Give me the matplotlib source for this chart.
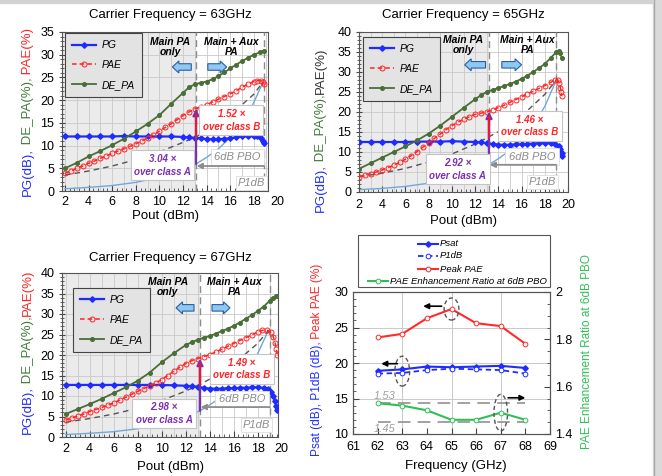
import matplotlib
matplotlib.use("Agg")
import matplotlib.pyplot as plt
from matplotlib import font_manager
from matplotlib.patches import Ellipse, FancyArrow, Rectangle
from matplotlib.lines import Line2D
from matplotlib.ticker import MultipleLocator, FuncFormatter

# ---------------- 63 GHz sweep ----------------
pg63_x = [2, 3, 4, 5, 6, 7, 8, 9, 10, 11, 12, 12.5, 13, 13.5, 14, 14.5, 15, 15.5, 16, 16.5,
          17, 17.5, 18, 18.3, 18.6, 18.8, 18.9]
pg63_y = [12.0, 12.0, 12.0, 12.0, 12.0, 12.1, 12.0, 12.0, 12.0, 12.0, 11.9, 11.8, 11.7, 11.6,
          11.4, 11.4, 11.4, 11.5, 11.6, 11.8, 12.0, 12.1, 12.1, 12.0, 11.7, 11.1, 10.5]
pae63_x = [2, 2.5, 3, 3.5, 4, 4.5, 5, 5.5, 6, 6.5, 7, 7.5, 8, 8.5, 9, 9.5, 10, 10.5, 11, 11.5,
           12, 12.5, 13, 13.5, 14, 14.5, 15, 15.5, 16, 16.5, 17, 17.5, 18, 18.3, 18.6, 18.8, 18.9]
pae63_y = [3.9, 4.4, 5.0, 5.5, 6.1, 6.6, 7.2, 7.7, 8.3, 8.8, 9.3, 9.8, 10.4, 11.0, 11.7, 12.4,
           13.2, 14.0, 14.8, 15.7, 16.6, 17.4, 18.1, 18.5, 19.0, 19.6, 20.2, 20.8, 21.4, 22.1,
           22.8, 23.5, 24.1, 24.3, 24.3, 24.0, 23.6]
de63_x = [2, 3, 4, 5, 6, 7, 8, 9, 10, 11, 12, 12.5, 13, 13.5, 14, 14.5, 15, 15.5, 16, 16.5,
          17, 17.5, 18, 18.5, 18.9]
de63_y = [5.0, 6.2, 7.6, 8.8, 10.1, 11.5, 13.1, 14.8, 16.7, 19.2, 21.6, 22.8, 23.5, 23.8,
          24.1, 24.6, 25.3, 26.1, 27.0, 27.8, 28.6, 29.3, 30.0, 30.5, 30.9]
clsA63_x = [2, 4, 6, 8, 10, 12, 13.1, 14, 15, 16, 17, 18, 18.8]
clsA63_y = [0.5, 0.8, 1.2, 1.9, 3.0, 4.7, 5.95, 7.4, 9.3, 11.8, 15.0, 19.5, 24.1]
clsB63_x = [2, 4, 6, 8, 10, 12, 13.1, 14, 16, 18, 18.8]
clsB63_y = [3.5, 4.4, 5.5, 6.9, 8.6, 10.7, 11.9, 13.2, 16.7, 21.3, 24.1]

# ---------------- 65 GHz sweep ----------------
pg65_x = [2, 3, 4, 5, 6, 7, 8, 9, 10, 11, 12, 12.5, 13, 13.5, 14, 14.5, 15, 15.5, 16, 16.5,
          17, 17.5, 18, 18.5, 18.9, 19.2, 19.35, 19.45, 19.5]
pg65_y = [12.5, 12.5, 12.5, 12.5, 12.5, 12.6, 12.6, 12.6, 12.7, 12.6, 12.5, 12.4, 12.2, 12.0,
          11.8, 11.8, 11.8, 11.9, 11.9, 12.0, 12.1, 12.2, 12.2, 12.2, 12.1, 11.6, 10.8, 9.8, 9.0]
pae65_x = [2, 2.5, 3, 3.5, 4, 4.5, 5, 5.5, 6, 6.5, 7, 7.5, 8, 8.5, 9, 9.5, 10, 10.5, 11, 11.5,
           12, 12.5, 13, 13.5, 14, 14.5, 15, 15.5, 16, 16.5, 17, 17.5, 18, 18.5, 18.9, 19.1,
           19.25, 19.35, 19.4, 19.45]
pae65_y = [3.8, 4.2, 4.6, 5.0, 5.5, 6.1, 6.7, 7.4, 8.2, 9.1, 10.1, 11.2, 12.3, 13.4, 14.5,
           15.6, 16.6, 17.4, 18.2, 18.8, 19.4, 19.7, 20.0, 20.5, 21.1, 21.7, 22.4, 23.1, 23.8,
           24.5, 25.2, 25.9, 26.6, 27.4, 28.1, 28.0, 27.2, 26.0, 25.0, 24.0]
de65_x = [2, 3, 4, 5, 6, 7, 8, 9, 10, 11, 12, 12.5, 13, 13.5, 14, 14.5, 15, 15.5, 16, 16.5,
          17, 17.5, 18, 18.5, 19, 19.2, 19.35, 19.45]
de65_y = [5.8, 7.2, 8.6, 10.0, 11.4, 12.9, 14.6, 16.6, 18.8, 21.0, 23.2, 24.2, 25.0, 25.5,
          26.0, 26.5, 27.0, 27.6, 28.3, 29.1, 30.0, 31.0, 32.0, 33.5, 35.0, 35.3, 34.8, 33.5]
clsA65_x = [2, 4, 6, 8, 10, 12, 13.2, 14, 15, 16, 17, 18, 19]
clsA65_y = [0.6, 0.9, 1.4, 2.2, 3.5, 5.4, 6.9, 8.3, 10.4, 13.1, 16.5, 21.4, 28.0]
clsB65_x = [2, 4, 6, 8, 10, 12, 13.2, 14, 16, 18, 19]
clsB65_y = [3.8, 4.7, 5.9, 7.5, 9.5, 12.0, 13.8, 15.1, 19.0, 24.4, 28.0]

# ---------------- 67 GHz sweep ----------------
pg67_x = [2, 3, 4, 5, 6, 7, 8, 9, 10, 11, 12, 12.5, 13, 13.5, 14, 14.5, 15, 15.5, 16, 16.5,
          17, 17.5, 18, 18.5, 18.9, 19.1, 19.3, 19.45, 19.55, 19.6]
pg67_y = [12.7, 12.7, 12.7, 12.7, 12.7, 12.7, 12.7, 12.7, 12.7, 12.6, 12.5, 12.4, 12.2, 12.0,
          11.8, 11.8, 11.8, 11.9, 11.9, 12.0, 12.0, 12.1, 12.1, 12.0, 11.7, 11.0, 10.0, 8.8,
          7.5, 6.5]
pae67_x = [2, 2.5, 3, 3.5, 4, 4.5, 5, 5.5, 6, 6.5, 7, 7.5, 8, 8.5, 9, 9.5, 10, 10.5, 11, 11.5,
           12, 12.5, 13, 13.5, 14, 14.5, 15, 15.5, 16, 16.5, 17, 17.5, 18, 18.4, 18.8, 19.1,
           19.3, 19.45, 19.55, 19.65]
pae67_y = [4.1, 4.6, 5.1, 5.6, 6.2, 6.7, 7.2, 7.7, 8.3, 9.0, 9.7, 10.4, 11.1, 11.8, 12.5,
           13.2, 14.0, 15.0, 16.0, 17.0, 17.9, 18.6, 19.1, 19.6, 20.1, 20.7, 21.4, 22.1, 22.8,
           23.5, 24.2, 24.9, 25.6, 26.0, 26.0, 25.5, 24.5, 23.0, 21.5, 20.0]
de67_x = [2, 3, 4, 5, 6, 7, 8, 9, 10, 11, 12, 12.5, 13, 13.5, 14, 14.5, 15, 15.5, 16, 16.5,
          17, 17.5, 18, 18.5, 19, 19.3, 19.5, 19.65]
de67_y = [5.6, 6.8, 8.0, 9.3, 10.7, 12.1, 13.7, 15.7, 18.2, 20.4, 22.4, 23.1, 23.7, 24.2,
          24.6, 25.2, 25.8, 26.4, 27.1, 27.9, 28.8, 29.7, 30.7, 31.8, 33.2, 34.0, 34.3, 34.4]
clsA67_x = [2, 4, 6, 8, 10, 12, 13.2, 14, 15, 16, 17, 18, 18.9]
clsA67_y = [0.6, 0.9, 1.3, 2.0, 3.2, 5.0, 6.4, 7.8, 9.8, 12.3, 15.5, 20.3, 26.0]
clsB67_x = [2, 4, 6, 8, 10, 12, 13.2, 14, 16, 18, 18.9]
clsB67_y = [3.6, 4.5, 5.6, 7.0, 8.9, 11.2, 12.8, 14.1, 17.8, 22.8, 26.0]

# PAE at 6dB back-off and enhancement over class A / class B
pbo_pae = [18.1, 20.1, 19.1]
ratio_a = [3.04, 2.92, 2.98]
ratio_b = [1.52, 1.46, 1.49]

# ---------------- frequency summary ----------------
freq = [62, 63, 64, 65, 66, 67, 68]
psat = [18.9, 19.1, 19.5, 19.4, 19.5, 19.6, 19.3]
p1db = [18.5, 18.6, 19.0, 19.2, 19.1, 19.0, 18.5]
peak_pae = [23.6, 24.1, 26.3, 27.6, 25.6, 25.2, 22.7]
pae_ratio = [1.53, 1.52, 1.50, 1.46, 1.46, 1.49, 1.46]
ratio_hi, ratio_lo = 1.53, 1.45

W, H = 662, 476
BLUE = "#1f2cff"
RED = "#ff2424"
GREEN = "#4b6e38"
LGREEN = "#2fc055"
PURPLE = "#7a2fb0"
CLS_A = "#6ea9dc"
CLS_B = "#555555"
GRID = "#c9c9c9"
SHADE = "#ebebeb"
GRAY_T = "#8c8c8c"

names = {f.name for f in font_manager.fontManager.ttflist}
TITLE_FONT = "Liberation Sans Narrow" if "Liberation Sans Narrow" in names else "Liberation Sans"
TITLE_SIZE = 11 if TITLE_FONT.endswith("Narrow") else 9.5
plt.rcParams["font.family"] = ["Liberation Sans", "DejaVu Sans"]

fig = plt.figure(figsize=(W / 100, H / 100), dpi=100)


def px_box(l, t, r, b):
    return [l / W, 1 - b / H, (r - l) / W, (b - t) / H]


def fx(x):
    return x / W


def fy(y):
    return 1 - y / H


def sweep(ax, box, xlim, ylim, split, p1, pg, pae, de, ca, cb, k, pos, leg_at, extra20, pad):
    ax.set_xlim(*xlim)
    ax.set_ylim(*ylim)
    ax.axvspan(xlim[0], split, color=SHADE, lw=0, zorder=0)
    for v in range(2, 20):
        ax.axvline(v, color=GRID, lw=0.6, zorder=0.5)
    ax.yaxis.grid(True, color=GRID, lw=0.6)
    ax.set_axisbelow(True)

    ax.plot(*ca, color=CLS_A, lw=1.0, zorder=2)
    ax.plot(*cb, color=CLS_B, lw=1.0, ls=(0, (4, 3)), zorder=2)
    ax.plot(*pg, color=BLUE, lw=1.6, marker="D", ms=2.8, label="PG", zorder=4)
    ax.plot(*pae, color=RED, lw=1.1, ls=(0, (3, 2)), marker="o", ms=3.6, mfc="none",
            mew=0.7, label="PAE", zorder=4)
    ax.plot(*de, color=GREEN, lw=1.3, marker="o", ms=2.6, label="DE_PA", zorder=4)

    for v in (split, p1):
        ax.axvline(v, color="#8c8c8c", ls=(0, (5, 3)), lw=1.0, zorder=3)

    # enhancement arrow at 6dB back-off
    top = pbo_pae[k]
    a_lvl, b_lvl = top / ratio_a[k], top / ratio_b[k]
    ax.annotate("", xy=(split, top), xytext=(split, a_lvl),
                arrowprops=dict(arrowstyle="-|>", color=PURPLE, lw=1.6, mutation_scale=9,
                                shrinkA=0, shrinkB=0), zorder=5)
    ax.plot([split, split], [b_lvl, top - 1.4], color="#e8173a", lw=1.6, zorder=6)

    txt = dict(fontsize=7, fontweight="bold", fontstyle="italic", ha="center", va="center",
               linespacing=1.35, zorder=7)
    ax.text(*pos["b"], f"{ratio_b[k]:.2f} ×\nover class B", color=RED,
            bbox=dict(boxstyle="square,pad=0.35", fc="white", ec="#c4c4c4", lw=0.8), **txt)
    ax.text(*pos["a"], f"{ratio_a[k]:.2f} ×\nover class A", color=PURPLE,
            bbox=dict(boxstyle="square,pad=0.35", fc="white", ec="#c4c4c4", lw=0.8), **txt)

    ax.text(*pos["pbo"], "6dB PBO", color=GRAY_T, fontsize=8, fontstyle="italic",
            ha="center", va="center", zorder=6,
            bbox=dict(boxstyle="square,pad=0.3", fc="white", ec="#dddddd", lw=0.6))
    ax.annotate("", xy=(split + 0.05, pos["pbo_y"]), xytext=(p1, pos["pbo_y"]),
                arrowprops=dict(arrowstyle="-|>", color=GRAY_T, lw=1.3, mutation_scale=8,
                                shrinkA=0, shrinkB=0), zorder=6)
    ax.text(*pos["p1"], "P1dB", color=GRAY_T, fontsize=8, fontstyle="italic", ha="center",
            va="center", zorder=6,
            bbox=dict(boxstyle="square,pad=0.2", fc="white", ec="#dddddd", lw=0.6))

    hd = dict(fontsize=7.5, fontweight="bold", fontstyle="italic", ha="center", va="center",
              linespacing=1.0, zorder=6)
    ax.text(*pos["main"], "Main PA\nonly", **hd)
    ax.text(*pos["aux"], "Main + Aux\nPA", **hd)

    # block arrows
    l, t, r, b = box
    sy = (b - t) / (ylim[1] - ylim[0])
    sx = (r - l) / (xlim[1] - xlim[0])
    for x0, x1 in (pos["la"], pos["ra"]):
        ax.add_patch(FancyArrow(x0, pos["ay"], x1 - x0, 0, width=6.5 / sy, head_width=12 / sy,
                                head_length=6.5 / sx, length_includes_head=True,
                                fc="#8ec9f4", ec="#2b5d9e", lw=0.8, zorder=6))

    leg = ax.legend(loc="upper left", bbox_to_anchor=leg_at, borderaxespad=0,
                    prop={"style": "italic", "size": 7.5}, facecolor="#e3e3e3",
                    edgecolor="#444444", framealpha=1, fancybox=False, labelspacing=0.95,
                    handlelength=2.3, borderpad=0.7, handletextpad=0.5)
    leg.get_frame().set_linewidth(0.8)
    leg.set_zorder(8)

    ax.xaxis.set_major_locator(MultipleLocator(2))
    ax.xaxis.set_minor_locator(MultipleLocator(0.4))
    ax.yaxis.set_major_locator(MultipleLocator(5))
    ax.yaxis.set_minor_locator(MultipleLocator(1))
    ax.tick_params(axis="x", which="both", direction="in", labelsize=9, pad=pad, color="#444")
    ax.tick_params(axis="y", which="both", direction="inout", labelsize=9, color="#444")
    ax.tick_params(which="major", length=4)
    ax.tick_params(which="minor", length=2.5)
    for s in ax.spines.values():
        s.set_color("#555555")
        s.set_linewidth(0.8)
    if extra20:
        ax.annotate("20", xy=(20, 0), xycoords=ax.get_xaxis_transform(), xytext=(0, -pad),
                    textcoords="offset points", ha="center", va="top", fontsize=9,
                    annotation_clip=False)


b1 = (62, 32, 268, 191)
ax1 = fig.add_axes(px_box(*b1))
sweep(ax1, b1, (1.75, 19.2), (0, 35), 13.1, 18.85,
      (pg63_x, pg63_y), (pae63_x, pae63_y), (de63_x, de63_y),
      (clsA63_x, clsA63_y), (clsB63_x, clsB63_y), 0,
      dict(b=(16.1, 15.6), a=(10.25, 5.7), pbo=(16.6, 7.5), pbo_y=5.5, p1=(17.8, 1.8),
           main=(10.9, 31.7), aux=(16.1, 31.7), ay=27.3, la=(12.7, 11.1), ra=(14.1, 15.7)),
      (0.015, 0.994), True, 3.5)

b2 = (359, 32, 568, 192)
ax2 = fig.add_axes(px_box(*b2))
sweep(ax2, b2, (2, 20), (0, 40), 13.2, 19.0,
      (pg65_x, pg65_y), (pae65_x, pae65_y), (de65_x, de65_y),
      (clsA65_x, clsA65_y), (clsB65_x, clsB65_y), 1,
      dict(b=(16.7, 16.5), a=(10.5, 5.7), pbo=(16.9, 8.8), pbo_y=6.8, p1=(17.8, 2.5),
           main=(11.0, 36.8), aux=(16.5, 36.8), ay=31.8, la=(12.9, 11.1), ra=(14.3, 16.0)),
      (0.02, 0.97), False, 5)

b3 = (62, 273, 278, 437)
ax3 = fig.add_axes(px_box(*b3))
sweep(ax3, b3, (1.7, 19.7), (0, 40), 13.2, 19.0,
      (pg67_x, pg67_y), (pae67_x, pae67_y), (de67_x, de67_y),
      (clsA67_x, clsA67_y), (clsB67_x, clsB67_y), 2,
      dict(b=(16.7, 16.6), a=(10.2, 5.7), pbo=(16.7, 9.3), pbo_y=7.3, p1=(17.9, 2.9),
           main=(10.5, 36.6), aux=(16.1, 36.6), ay=31.5, la=(12.7, 11.2), ra=(14.2, 15.7)),
      (0.05, 0.91), True, 4.5)

for (cx, cy), s in (((170, 15), "Carrier Frequency = 63GHz"),
                    ((463, 15), "Carrier Frequency = 65GHz"),
                    ((170, 258), "Carrier Frequency = 67GHz")):
    fig.text(fx(cx), fy(cy), s, ha="center", va="center", fontsize=TITLE_SIZE,
             family=[TITLE_FONT, "DejaVu Sans"])
for (cx, cy) in ((165, 216), (463, 221), (170, 467)):
    fig.text(fx(cx), fy(cy), "Pout (dBm)", ha="center", va="center", fontsize=9.5)

# ---------------- frequency summary panel ----------------
b4 = (353, 292, 550, 434)
ax4 = fig.add_axes(px_box(*b4))
ax4.set_xlim(61, 69)
ax4.set_ylim(10, 30)
ax4.yaxis.grid(True, color=GRID, lw=0.7)
for v in range(63, 69, 2):
    ax4.axvline(v, color=GRID, lw=0.7, zorder=0.5)
ax4.set_axisbelow(True)
ax4.plot(freq, psat, color=BLUE, lw=1.5, marker="D", ms=2.8, zorder=4)
ax4.plot(freq, p1db, color=BLUE, lw=1.3, ls=(0, (3, 2)), marker="o", ms=3.4, mfc="white",
         mew=0.7, zorder=4)
ax4.plot(freq, peak_pae, color="#ff2b2b", lw=1.5, marker="o", ms=3.4, mfc="white", mew=0.7,
         zorder=4)
ax4.xaxis.set_major_locator(MultipleLocator(1))
ax4.yaxis.set_major_locator(MultipleLocator(5))
ax4.yaxis.set_minor_locator(MultipleLocator(1))
ax4.tick_params(which="both", direction="in", labelsize=9, color="#444")
ax4.tick_params(axis="x", pad=5)
ax4.tick_params(which="major", length=4)
ax4.tick_params(which="minor", length=2.5)

ax4r = ax4.twinx()
ax4r.set_ylim(1.4, 2.0)
ax4r.plot(freq, pae_ratio, color=LGREEN, lw=1.5, marker="o", ms=3.4, mfc="white", mew=0.7,
          zorder=4)
ax4r.hlines([ratio_hi, ratio_lo], 62, 68, colors="#9a9a9a", linestyles=(0, (7, 4)), lw=1.3,
            zorder=3)
ax4r.text(62.3, ratio_hi + 0.008, f"{ratio_hi:.2f}", color="#a0a0a0", fontsize=8,
          fontstyle="italic", ha="center", va="bottom")
ax4r.text(62.3, ratio_lo - 0.008, f"{ratio_lo:.2f}", color="#a0a0a0", fontsize=8,
          fontstyle="italic", ha="center", va="top")
ax4r.yaxis.set_major_locator(MultipleLocator(0.2))
ax4r.yaxis.set_minor_locator(MultipleLocator(0.05))
ax4r.yaxis.set_major_formatter(FuncFormatter(lambda v, _: f"{v:g}"))
ax4r.tick_params(which="both", direction="in", labelsize=9, color="#444")
ax4r.tick_params(which="major", length=4)
ax4r.tick_params(which="minor", length=2.5)
for a in (ax4, ax4r):
    for s in a.spines.values():
        s.set_color("#555555")
        s.set_linewidth(0.8)

ell = dict(fill=False, ec="#555555", ls=(0, (3, 2)), lw=1.0, zorder=5)
ax4.add_patch(Ellipse((65, peak_pae[3]), 0.6, 3.1, **ell))
ax4.add_patch(Ellipse((63, (psat[1] + p1db[1]) / 2), 0.6, 4.2, **ell))
ax4r.add_patch(Ellipse((67, pae_ratio[5]), 0.55, 0.155, **ell))
arr = dict(arrowstyle="-|>", color="black", lw=1.2, mutation_scale=8, shrinkA=0, shrinkB=0)
ax4.annotate("", xy=(63.85, 28.0), xytext=(64.6, 28.0), arrowprops=arr)
ax4.annotate("", xy=(62.15, 19.9), xytext=(62.8, 19.9), arrowprops=arr)
ax4r.annotate("", xy=(68.0, 1.553), xytext=(67.3, 1.553), arrowprops=arr)

fig.text(fx(456), fy(466), "Frequency (GHz)", ha="center", va="center", fontsize=9.5)
fig.text(fx(587), fy(352), "PAE Enhancement Ratio at 6dB PBO", color=LGREEN, rotation=90,
         ha="center", va="center", fontsize=8.5)

# legend drawn above the summary axes
fig.add_artist(Rectangle((fx(358), fy(287)), fx(550) - fx(358), fy(235) - fy(287),
                         fill=False, ec="#555555", lw=0.8, transform=fig.transFigure))
entries = [
    (418, 244, "Psat", dict(color=BLUE, lw=1.5, marker="D", ms=2.8)),
    (418, 256, "P1dB", dict(color=BLUE, lw=1.3, ls=(0, (3, 2)), marker="o", ms=3.4,
                            mfc="white", mew=0.7)),
    (418, 269, "Peak PAE", dict(color="#ff2b2b", lw=1.5, marker="o", ms=3.4, mfc="white",
                                mew=0.7)),
    (368, 281, "PAE Enhancement Ratio at 6dB PBO", dict(color=LGREEN, lw=1.5, marker="o",
                                                        ms=3.4, mfc="white", mew=0.7)),
]
for hx, hy, lab, st in entries:
    fig.add_artist(Line2D([fx(hx), fx(hx + 10), fx(hx + 20)], [fy(hy)] * 3, markevery=[1],
                          transform=fig.transFigure, **st))
    fig.text(fx(hx + 22), fy(hy), lab, ha="left", va="center", fontsize=6.8,
             fontstyle="italic")


def stacked_ylabel(x, yc, parts, size):
    r = fig.canvas.get_renderer()
    ts = [fig.text(fx(x), 0, s, color=c, rotation=90, ha="center", va="bottom", fontsize=size)
          for s, c in parts]
    hs = [t.get_window_extent(r).height / fig.bbox.height for t in ts]
    y = fy(yc) - sum(hs) / 2
    for t, h in zip(ts, hs):
        t.set_y(y)
        y += h


stacked_ylabel(28, 112, [("PG(dB),", BLUE), (" DE_PA(%),", "#3f7d3a"), (" PAE(%)", RED)], 9.5)
stacked_ylabel(321, 130, [("PG(dB),", BLUE), (" DE_PA(%),", "#3f7d3a"), ("PAE(%)", "#333333")],
               9.5)
stacked_ylabel(28, 352, [("PG(dB),", BLUE), (" DE_PA(%),", "#3f7d3a"), ("PAE(%)", RED)], 9.5)
stacked_ylabel(317, 360, [("Psat (dB), P1dB (dB),", BLUE), (" Peak PAE (%)", RED)], 8.6)

# outer frame strips
fig.add_artist(Rectangle((0, fy(3)), 1, 3 / H, color="#d2d2d2", transform=fig.transFigure))
fig.add_artist(Rectangle((fx(653), 0), 1 - fx(653), 1, color="#dadada",
                         transform=fig.transFigure))
fig.add_artist(Line2D([fx(653.5)] * 2, [0, 1], color="#a8a8a8", lw=1.0,
                      transform=fig.transFigure))

fig.savefig("out.png", dpi=100)
